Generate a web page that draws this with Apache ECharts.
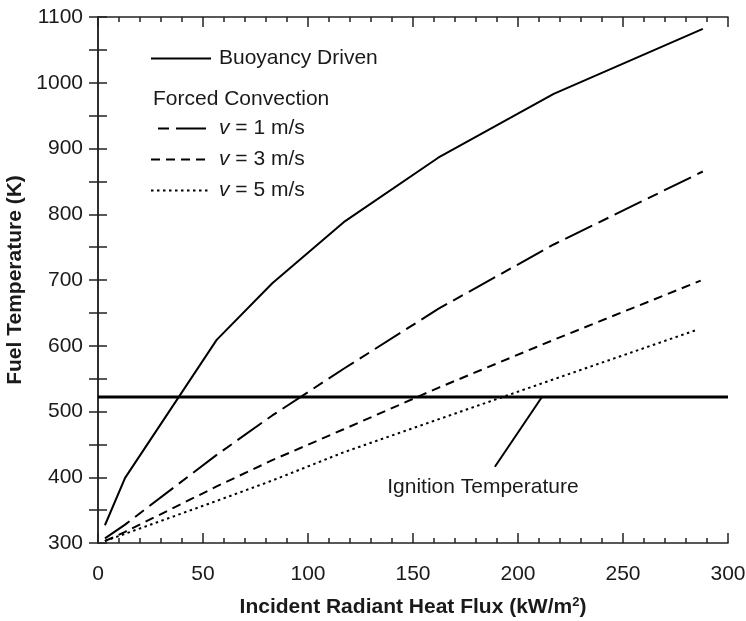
<!DOCTYPE html>
<html>
<head>
<meta charset="utf-8">
<script src="https://cdn.jsdelivr.net/npm/echarts@6/dist/echarts.min.js"></script>
<style>
  html, body { margin: 0; padding: 0; background: #fff; }
  #chart { width: 746px; height: 621px; }
</style>
</head>
<body>
<div id="chart"></div>
<script>
// Fuel temperature vs incident radiant heat flux
const fluxBuoyancy = [3.3, 12.9, 56.5, 83, 117, 162, 217, 288];
const tempBuoyancy = [327, 399, 609, 695, 788, 886, 983, 1082];

const fluxV1 = [3.3, 12.9, 56.5, 83, 117, 162, 217, 288];
const tempV1 = [307, 328, 434, 494, 565, 656, 754, 865];

const fluxV3 = [3.3, 12.9, 56.5, 83, 117, 162, 217, 287];
const tempV3 = [303, 317, 386, 426, 473, 536, 609, 699];

const fluxV5 = [3.3, 12.9, 56.5, 83, 117, 162, 217, 285];
const tempV5 = [303, 314, 364, 395, 438, 488, 549, 624];

// Ignition temperature reference line and its annotation
const ignitionFlux = [0, 300];
const ignitionTemp = [522, 522];
const leaderFlux = [189, 211.4];
const leaderTemp = [416, 522];
const ignitionLabelAt = [183.3, 385];
const ignitionLabel = 'Ignition Temperature';

const xTicks = { min: 0, max: 300, step: 50 };
const yTicks = { min: 300, max: 1100, step: 100 };

const seriesNames = ['Buoyancy Driven', 'v = 1 m/s', 'v = 3 m/s', 'v = 5 m/s'];

const pairs = (xs, ys) => xs.map((x, i) => [x, ys[i]]);

const FONT = '"Liberation Sans", Arial, sans-serif';
const INK = '#1a1a1a';
const FRAME = '#222';

const frameLine = { show: true, lineStyle: { color: FRAME, width: 1.5 } };

const chart = echarts.init(document.getElementById('chart'), null, { renderer: 'canvas' });

const legendText = {
  fontFamily: FONT, fontSize: 21, color: INK, padding: [0, 0, 0, 3],
  rich: { i: { fontFamily: FONT, fontSize: 21, color: INK, fontStyle: 'italic' } }
};
const legendFormatter = name => name.startsWith('v ') ? '{i|v}' + name.slice(1) : name;
// line-only legend keys: hide the marker symbol
const legendMarker = { color: 'rgba(0,0,0,0)', borderWidth: 0, opacity: 0 };

chart.setOption({
  animation: false,
  backgroundColor: '#fff',
  textStyle: { fontFamily: FONT },
  grid: { left: 98, right: 18, top: 17, bottom: 78, containLabel: false, outerBoundsMode: 'none' },
  legend: [
    {
      data: [seriesNames[0]],
      left: 150, top: 48, padding: 0,
      itemWidth: 60, itemHeight: 20,
      itemStyle: legendMarker,
      textStyle: legendText,
      formatter: legendFormatter,
      selectedMode: false
    },
    {
      data: seriesNames.slice(1),
      orient: 'vertical',
      left: 150, top: 118, padding: 0,
      itemWidth: 60, itemHeight: 20, itemGap: 10,
      itemStyle: legendMarker,
      lineStyle: { dashOffset: 30 },
      textStyle: legendText,
      formatter: legendFormatter,
      selectedMode: false
    }
  ],
  graphic: [
    {
      type: 'text', left: 153, top: 89,
      style: { text: 'Forced Convection', font: '21px ' + FONT, fill: INK }
    }
  ],
  xAxis: [
    {
      type: 'value', position: 'bottom',
      min: xTicks.min, max: xTicks.max, interval: xTicks.step,
      axisLine: frameLine,
      axisTick: { show: true, inside: true, length: 10, lineStyle: { color: FRAME, width: 1.5 } },
      minorTick: { show: true, splitNumber: 5, length: 5, lineStyle: { color: FRAME, width: 1.5 } },
      splitLine: { show: false },
      axisLabel: { fontSize: 21, color: INK, fontFamily: FONT, margin: 21, formatter: v => String(v) },
      name: 'Incident Radiant Heat Flux (kW/m{sup|2})',
      nameLocation: 'middle', nameGap: 53,
      nameTextStyle: {
        fontSize: 21, fontWeight: 'bold', color: INK, fontFamily: FONT,
        rich: { sup: { fontSize: 13, fontWeight: 'bold', color: INK, fontFamily: FONT, verticalAlign: 'top', padding: [0, 0, 10, 0] } }
      }
    },
    {
      type: 'value', position: 'top',
      min: xTicks.min, max: xTicks.max, interval: xTicks.step,
      axisLine: frameLine,
      axisTick: { show: true, inside: true, length: 10, lineStyle: { color: FRAME, width: 1.5 } },
      minorTick: { show: true, splitNumber: 5, length: 5, lineStyle: { color: FRAME, width: 1.5 } },
      splitLine: { show: false },
      axisLabel: { show: false }
    }
  ],
  yAxis: [
    {
      type: 'value', position: 'left',
      min: yTicks.min, max: yTicks.max, interval: yTicks.step,
      axisLine: frameLine,
      axisTick: { show: true, inside: true, length: 9, lineStyle: { color: FRAME, width: 1.5 } },
      minorTick: { show: true, splitNumber: 2, length: 9, lineStyle: { color: FRAME, width: 1.5 } },
      splitLine: { show: false },
      axisLabel: { fontSize: 21, color: INK, fontFamily: FONT, margin: 15, formatter: v => String(v) },
      name: 'Fuel Temperature (K)',
      nameLocation: 'middle', nameGap: 70,
      nameTextStyle: { fontSize: 21, fontWeight: 'bold', color: INK, fontFamily: FONT }
    },
    {
      type: 'value', position: 'right',
      min: yTicks.min, max: yTicks.max, interval: yTicks.step,
      axisLine: frameLine,
      axisTick: { show: true, inside: true, length: 9, lineStyle: { color: FRAME, width: 1.5 } },
      minorTick: { show: true, splitNumber: 2, length: 9, lineStyle: { color: FRAME, width: 1.5 } },
      splitLine: { show: false },
      axisLabel: { show: false }
    }
  ],
  series: [
    {
      name: seriesNames[0], type: 'line', symbol: 'none',
      data: pairs(fluxBuoyancy, tempBuoyancy),
      lineStyle: { color: '#000', width: 2, type: 'solid' },
      itemStyle: { color: '#000' }
    },
    {
      name: seriesNames[1], type: 'line', symbol: 'none',
      data: pairs(fluxV1, tempV1),
      lineStyle: { color: '#000', width: 2, type: [30, 7, 11, 7] },
      itemStyle: { color: '#000' }
    },
    {
      name: seriesNames[2], type: 'line', symbol: 'none',
      data: pairs(fluxV3, tempV3),
      lineStyle: { color: '#000', width: 2, type: [9, 6] },
      itemStyle: { color: '#000' }
    },
    {
      name: seriesNames[3], type: 'line', symbol: 'none',
      data: pairs(fluxV5, tempV5),
      lineStyle: { color: '#000', width: 2, type: [2.5, 3.5] },
      itemStyle: { color: '#000' }
    },
    {
      name: 'ignition', type: 'line', symbol: 'none',
      data: pairs(ignitionFlux, ignitionTemp),
      lineStyle: { color: '#000', width: 3 },
      silent: true
    },
    {
      name: 'leader', type: 'line', symbol: 'none',
      data: pairs(leaderFlux, leaderTemp),
      lineStyle: { color: '#000', width: 2 },
      silent: true
    },
    {
      name: 'ignitionLabel', type: 'scatter', symbolSize: 0,
      data: [ignitionLabelAt],
      itemStyle: { opacity: 1 },
      label: {
        show: true, position: 'inside', formatter: ignitionLabel,
        fontSize: 21, color: INK, fontFamily: FONT, opacity: 1
      },
      silent: true
    }
  ]
});
</script>
</body>
</html>
